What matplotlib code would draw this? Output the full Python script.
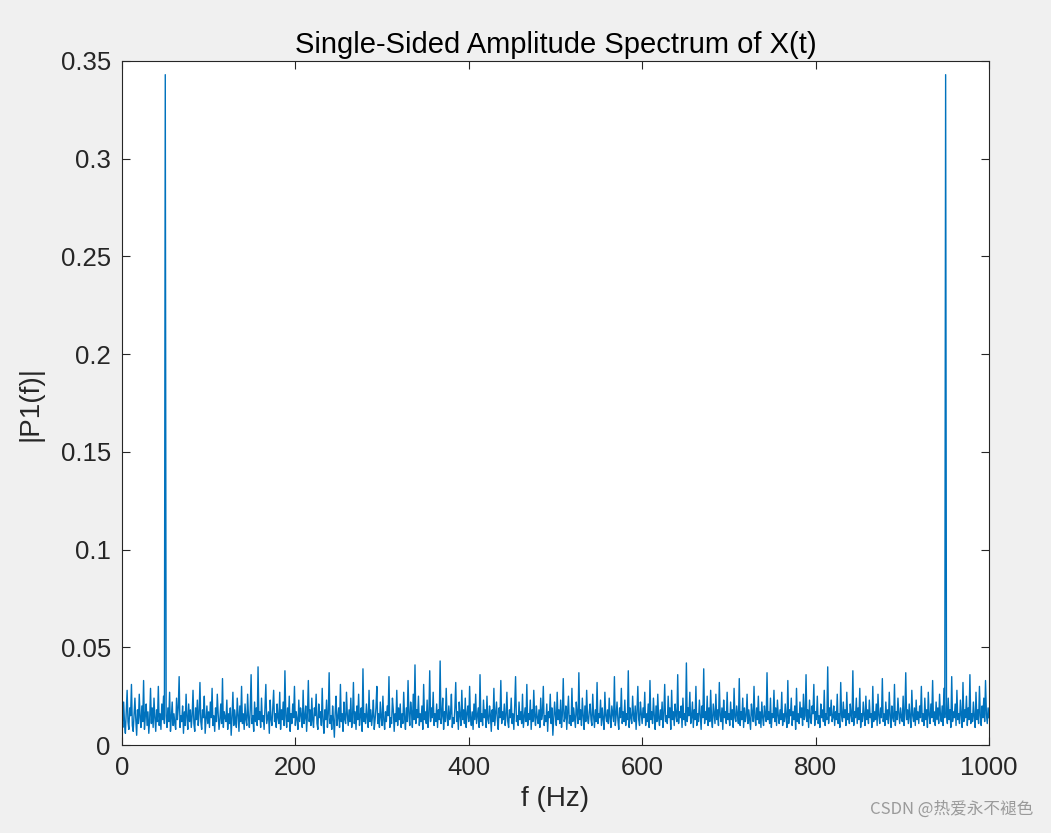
import numpy as np
import matplotlib
matplotlib.use('Agg')
import matplotlib.pyplot as plt
from matplotlib.ticker import FormatStrFormatter


# spectrum values, in units of 1e-3, one per Hz from 0 to 1000 Hz
amp_milli = [
    14, 9, 22, 11, 6, 17, 28, 12, 8, 19, 15, 31, 10, 7, 16, 24, 13, 5, 18, 11,
    26, 14, 9, 20, 12, 33, 8, 15, 21, 10, 17, 6, 13, 29, 11, 19, 9, 24, 14, 7,
    18, 12, 30, 10, 16, 8, 21, 13, 25, 11, 343, 15, 9, 19, 12, 27, 7, 14, 22, 10,
    16, 11, 8, 24, 13, 19, 35, 9, 15, 12, 20, 6, 17, 10, 26, 14, 8, 21, 12, 18,
    9, 15, 28, 11, 7, 19, 13, 23, 10, 16, 32, 12, 8, 18, 14, 25, 6, 13, 20, 11,
    17, 9, 22, 14, 29, 10, 15, 7, 19, 12, 26, 16, 8, 13, 21, 11, 34, 9, 17, 14,
    12, 23, 8, 16, 11, 19, 5, 14, 27, 10, 18, 13, 9, 24, 15, 7, 20, 12, 30, 11,
    16, 8, 21, 13, 10, 26, 14, 9, 18, 36, 11, 15, 7, 22, 12, 19, 10, 40, 13, 17,
    9, 24, 12, 15, 8, 20, 31, 11, 14, 17, 6, 23, 13, 10, 19, 28, 12, 16, 9, 21,
    14, 11, 27, 8, 18, 13, 22, 10, 38, 15, 9, 19, 12, 25, 7, 16, 11, 21, 14, 30,
    10, 17, 13, 8, 23, 12, 19, 15, 9, 28, 11, 14, 20, 7, 16, 33, 12, 18, 10, 24,
    13, 9, 19, 15, 26, 11, 8, 21, 14, 17, 10, 29, 12, 6, 18, 13, 23, 9, 16, 37,
    11, 15, 8, 20, 13, 4, 17, 25, 10, 14, 19, 9, 31, 12, 16, 7, 22, 13, 11, 27,
    15, 10, 18, 12, 24, 9, 14, 32, 11, 17, 8, 20, 13, 26, 10, 15, 19, 7, 39, 12,
    16, 11, 21, 14, 9, 28, 12, 18, 10, 15, 23, 8, 13, 19, 30, 11, 16, 9, 22, 14,
    10, 25, 13, 8, 17, 12, 20, 15, 35, 9, 14, 11, 24, 18, 7, 16, 12, 28, 10, 19,
    13, 21, 9, 16, 11, 27, 14, 8, 19, 12, 33, 15, 10, 22, 17, 9, 26, 13, 41, 11,
    18, 14, 25, 10, 16, 12, 20, 8, 31, 13, 17, 11, 23, 9, 15, 38, 12, 19, 14, 27,
    10, 16, 12, 21, 9, 18, 13, 43, 11, 15, 24, 8, 17, 12, 29, 14, 10, 20, 13, 16,
    26, 9, 14, 11, 19, 32, 12, 17, 8, 22, 15, 10, 28, 13, 18, 11, 24, 9, 16, 20,
    12, 30, 14, 10, 17, 8, 21, 13, 26, 11, 15, 19, 9, 36, 12, 16, 10, 23, 14, 18,
    9, 25, 13, 11, 20, 15, 7, 18, 12, 29, 10, 16, 22, 13, 8, 19, 14, 33, 11, 17,
    13, 21, 10, 15, 27, 12, 9, 18, 14, 24, 11, 16, 8, 20, 35, 12, 15, 10, 22, 13,
    17, 11, 26, 9, 14, 19, 12, 31, 10, 16, 13, 23, 8, 18, 12, 28, 15, 10, 20, 14,
    11, 18, 9, 24, 13, 16, 30, 10, 15, 12, 21, 7, 17, 14, 26, 11, 19, 5, 13, 22,
    15, 10, 27, 13, 18, 11, 23, 9, 16, 34, 12, 14, 20, 8, 17, 25, 11, 15, 10, 29,
    12, 19, 14, 9, 22, 16, 11, 37, 13, 18, 10, 24, 15, 8, 20, 12, 28, 14, 11, 17,
    21, 13, 10, 26, 15, 9, 18, 12, 32, 11, 16, 14, 23, 10, 19, 13, 8, 27, 15, 12,
    18, 11, 24, 14, 9, 20, 16, 12, 35, 10, 15, 22, 13, 8, 19, 14, 29, 11, 17, 12,
    23, 10, 16, 13, 38, 9, 19, 14, 11, 25, 15, 12, 20, 8, 17, 30, 13, 10, 22, 16,
    11, 19, 14, 27, 10, 16, 12, 21, 9, 33, 13, 17, 11, 24, 15, 8, 20, 12, 26, 14,
    10, 18, 13, 22, 9, 16, 31, 12, 15, 11, 25, 14, 19, 8, 28, 13, 17, 10, 21, 15,
    12, 36, 11, 17, 14, 20, 9, 24, 13, 16, 10, 42, 12, 19, 15, 27, 11, 14, 22, 9,
    18, 13, 30, 10, 16, 12, 23, 15, 8, 20, 14, 39, 11, 17, 13, 25, 10, 19, 12, 28,
    14, 9, 21, 16, 11, 26, 13, 18, 10, 32, 15, 12, 19, 8, 23, 14, 17, 11, 27, 13,
    16, 10, 22, 13, 18, 9, 29, 14, 12, 20, 15, 11, 34, 10, 17, 13, 24, 9, 19, 12,
    15, 26, 11, 18, 13, 8, 21, 16, 12, 30, 14, 10, 19, 13, 25, 11, 17, 9, 22, 14,
    10, 20, 15, 12, 37, 13, 17, 11, 24, 9, 16, 14, 28, 12, 19, 10, 23, 15, 11, 18,
    13, 27, 10, 16, 12, 21, 14, 9, 33, 11, 18, 15, 24, 10, 17, 13, 20, 8, 29, 12,
    16, 11, 22, 14, 19, 10, 26, 13, 15, 36, 12, 18, 9, 23, 14, 11, 20, 16, 31, 10,
    17, 13, 25, 11, 15, 9, 21, 14, 18, 12, 28, 10, 16, 13, 40, 11, 19, 15, 23, 12,
    14, 20, 10, 17, 13, 26, 11, 16, 9, 32, 15, 12, 22, 14, 18, 10, 27, 13, 16, 11,
    21, 15, 12, 38, 10, 17, 14, 24, 11, 19, 13, 29, 9, 16, 12, 22, 15, 10, 25, 13,
    18, 11, 23, 14, 16, 9, 30, 12, 17, 13, 21, 10, 26, 15, 11, 19, 14, 34, 12, 16,
    10, 22, 13, 18, 11, 27, 15, 9, 20, 14, 12, 31, 10, 17, 13, 24, 16, 11, 19, 14,
    12, 25, 10, 16, 37, 13, 18, 11, 21, 14, 9, 28, 15, 12, 19, 10, 23, 13, 17, 11,
    20, 14, 30, 12, 16, 10, 24, 13, 18, 9, 27, 15, 11, 21, 14, 33, 12, 17, 10, 22,
    13, 19, 11, 26, 15, 12, 20, 10, 29, 14, 343, 16, 11, 24, 13, 18, 9, 35, 12, 17,
    14, 21, 10, 28, 13, 16, 11, 23, 15, 9, 32, 12, 18, 14, 25, 10, 19, 13, 36, 11,
    16, 12, 22, 14, 9, 27, 13, 18, 11, 30, 15, 10, 20, 14, 24, 12, 33, 16, 11, 19,
    14,
]
f_start, f_stop = 0, 1000
x_ticks = [0, 200, 400, 600, 800, 1000]
y_ticks = [0, 0.05, 0.1, 0.15, 0.2, 0.25, 0.3, 0.35]

amp = np.array(amp_milli) / 1000.0
freq = np.linspace(f_start, f_stop, len(amp))

plt.rcParams['font.family'] = ['Liberation Sans', 'DejaVu Sans']
txt_color = '#262626'

fig = plt.figure(figsize=(10.51, 8.33), dpi=100, facecolor='#f0f0f0')
ax = fig.add_axes([0.116, 0.1056, 0.825, 0.8212])
ax.plot(freq, amp, color='#0072BD', lw=1.0)

ax.set_xlim(f_start, f_stop)
ax.set_ylim(0, 0.35)
ax.set_xticks(x_ticks)
ax.set_yticks(y_ticks)
ax.yaxis.set_major_formatter(FormatStrFormatter('%g'))
ax.tick_params(direction='in', top=True, right=True, length=6, width=0.8,
               labelsize=18.5, colors=txt_color, pad=8)
for sp in ax.spines.values():
    sp.set_color(txt_color)
    sp.set_linewidth(0.8)

ax.set_title('Single-Sided Amplitude Spectrum of X(t)', fontsize=21, color='black', pad=6)
ax.set_xlabel('f (Hz)', fontsize=20, color=txt_color, labelpad=4)
ax.set_ylabel('|P1(f)|', fontsize=20, color=txt_color, labelpad=12)

fig.text(0.983, 0.018, 'CSDN @热爱永不褪色', ha='right', va='bottom', fontsize=12,
         color='#9a9a9a', family=['Noto Sans CJK SC', 'DejaVu Sans'])

plt.savefig('out.png', dpi=100, facecolor=fig.get_facecolor())
